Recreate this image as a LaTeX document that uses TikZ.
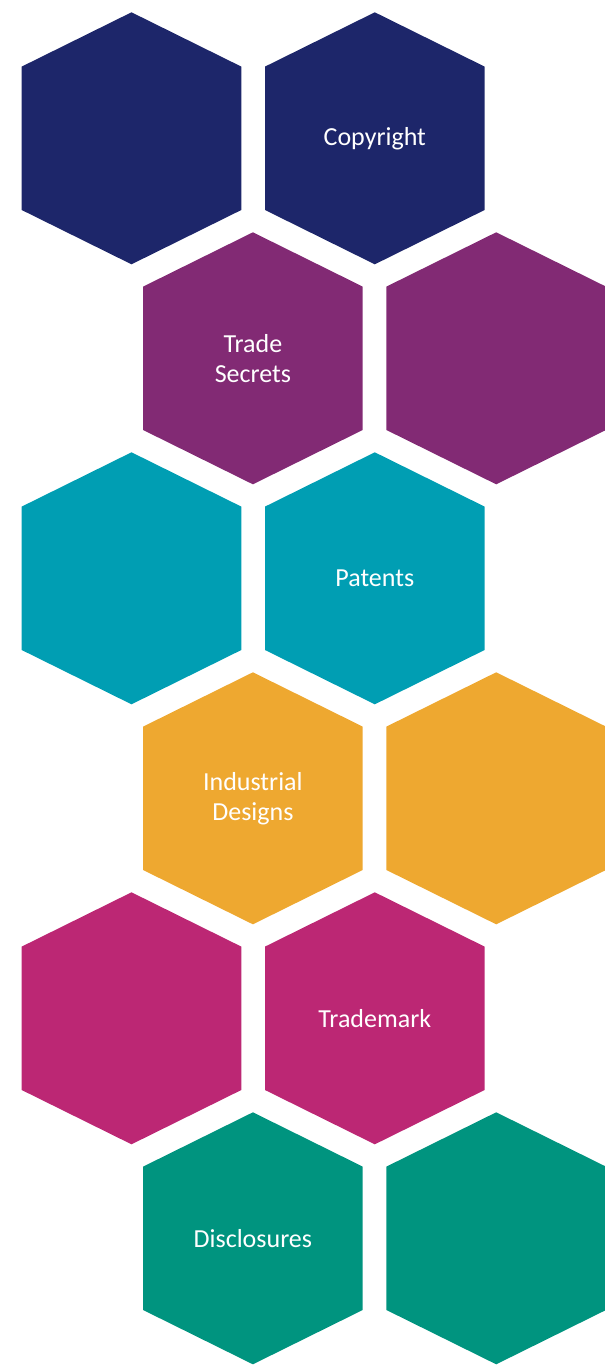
\documentclass[tikz,border=0pt]{standalone}
\usepackage{fontspec}
\setmainfont{Carlito}
\definecolor{cnavy}{HTML}{1D266A}
\definecolor{cpurple}{HTML}{822A74}
\definecolor{cteal}{HTML}{009EB3}
\definecolor{corange}{HTML}{EEA830}
\definecolor{cmagenta}{HTML}{BC2774}
\definecolor{cgreen}{HTML}{00947F}
\newcommand\hexcell[3]{\fill[#3] (#1,#2-126) -- (#1+109.8,#2-71.7) -- (#1+109.8,#2+71.7) -- (#1,#2+126) -- (#1-109.8,#2+71.7) -- (#1-109.8,#2-71.7) -- cycle;}
\begin{document}
\begin{tikzpicture}[x=1pt,y=-1pt,
  hexlabel/.style={text=white,align=center,font=\fontsize{26}{30}\selectfont,inner sep=0pt}]
\useasboundingbox (0,0) rectangle (605,1368);
% row 1
\hexcell{131.5}{138.3}{cnavy}
\hexcell{374.8}{138.3}{cnavy}
% row 2
\hexcell{252.9}{358.3}{cpurple}
\hexcell{496.2}{358.3}{cpurple}
% row 3
\hexcell{131.5}{578.3}{cteal}
\hexcell{374.8}{578.3}{cteal}
% row 4
\hexcell{252.9}{798.3}{corange}
\hexcell{496.2}{798.3}{corange}
% row 5
\hexcell{131.5}{1018.3}{cmagenta}
\hexcell{374.8}{1018.3}{cmagenta}
% row 6
\hexcell{252.9}{1238.3}{cgreen}
\hexcell{496.2}{1238.3}{cgreen}
% labels
\node[hexlabel] (copyright) at (374.8,138.3) {Copyright};
\node[hexlabel] (trade) at (252.9,358.3) {Trade\\Secrets};
\node[hexlabel] (patents) at (374.8,578.3) {Patents};
\node[hexlabel] (industrial) at (252.9,798.3) {Industrial\\Designs};
\node[hexlabel] (trademark) at (374.8,1018.3) {Trademark};
\node[hexlabel] (disclosures) at (252.9,1238.3) {Disclosures};
\end{tikzpicture}
\end{document}
